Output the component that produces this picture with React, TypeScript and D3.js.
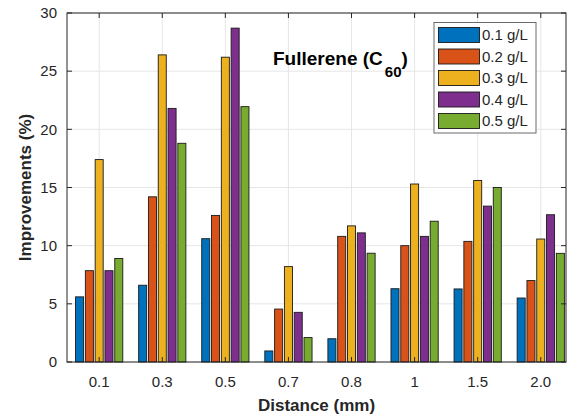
import React from "react";
import * as d3 from "d3";

const categories = ["0.1", "0.3", "0.5", "0.7", "0.8", "1", "1.5", "2.0"];
const seriesNames = ["0.1 g/L", "0.2 g/L", "0.3 g/L", "0.4 g/L", "0.5 g/L"];
const s01 = [5.6, 6.6, 10.6, 0.95, 2.0, 6.3, 6.28, 5.5];
const s02 = [7.85, 14.2, 12.6, 4.55, 10.8, 10.0, 10.37, 7.0];
const s03 = [17.4, 26.4, 26.2, 8.2, 11.7, 15.3, 15.6, 10.57];
const s04 = [7.85, 21.8, 28.7, 4.27, 11.1, 10.8, 13.4, 12.66];
const s05 = [8.9, 18.8, 21.95, 2.1, 9.35, 12.1, 15.0, 9.34];
const seriesValues = [s01, s02, s03, s04, s05];
const yTicks = [0, 5, 10, 15, 20, 25, 30];
const colors = ["#0072BD", "#D95319", "#EDB120", "#7E2F8E", "#77AC30"];

const W = 578;
const H = 419;
const left = 67, right = 566, top = 13, bottom = 362;
const font = "'Liberation Sans', Arial, Helvetica, sans-serif";
const axisColor = "#262626";

export default function App() {
  const x = d3.scaleLinear().domain([0.49, 8.4]).range([left, right]);
  const y = d3.scaleLinear().domain([0, 30]).range([bottom, top]);
  const inner = d3
    .scaleBand<number>()
    .domain(d3.range(seriesNames.length))
    .range([-24.5, 24.5])
    .paddingInner(0.18)
    .paddingOuter(0.09);
  const bw = inner.bandwidth();
  const tickLen = 5;

  return (
    <svg width={W} height={H} style={{ position: "absolute", left: 0, top: 0, background: "#fff" }}>
      <rect x={0} y={0} width={W} height={H} fill="#fff" />
      {/* grid */}
      {yTicks.map((t) => (
        <line key={"gy" + t} x1={left} x2={right} y1={y(t)} y2={y(t)} stroke="#e6e6e6" strokeWidth={1} />
      ))}
      {categories.map((c, i) => (
        <line key={"gx" + c} x1={x(i + 1)} x2={x(i + 1)} y1={top} y2={bottom} stroke="#e6e6e6" strokeWidth={1} />
      ))}
      {/* bars */}
      {seriesValues.map((vals, s) =>
        vals.map((v, i) => {
          const cx = x(i + 1) + (inner(s) as number);
          return (
            <rect
              key={s + "-" + i}
              x={cx}
              y={y(v)}
              width={bw}
              height={y(0) - y(v)}
              fill={colors[s]}
              stroke="#1a1a1a"
              strokeWidth={0.9}
            />
          );
        })
      )}
      {/* axes box */}
      <rect x={left} y={top} width={right - left} height={bottom - top} fill="none" stroke={axisColor} strokeWidth={1} />
      {/* ticks */}
      {yTicks.map((t) => (
        <g key={"ty" + t}>
          <line x1={left} x2={left + tickLen} y1={y(t)} y2={y(t)} stroke={axisColor} />
          <line x1={right} x2={right - tickLen} y1={y(t)} y2={y(t)} stroke={axisColor} />
          <text x={left - 10} y={y(t)} dy="0.35em" textAnchor="end" fontFamily={font} fontSize={15} fill={axisColor}>
            {t}
          </text>
        </g>
      ))}
      {categories.map((c, i) => (
        <g key={"tx" + c}>
          <line x1={x(i + 1)} x2={x(i + 1)} y1={bottom} y2={bottom - tickLen} stroke={axisColor} />
          <line x1={x(i + 1)} x2={x(i + 1)} y1={top} y2={top + tickLen} stroke={axisColor} />
          <text x={x(i + 1)} y={bottom + 25} textAnchor="middle" fontFamily={font} fontSize={15} fill={axisColor}>
            {c}
          </text>
        </g>
      ))}
      {/* axis titles */}
      <text x={(left + right) / 2} y={411} textAnchor="middle" fontFamily={font} fontSize={17} fontWeight="bold" fill={axisColor}>
        Distance (mm)
      </text>
      <text
        transform={`translate(31,${(top + bottom) / 2}) rotate(-90)`}
        textAnchor="middle"
        fontFamily={font}
        fontSize={17}
        fontWeight="bold"
        fill={axisColor}
      >
        Improvements (%)
      </text>
      {/* annotation */}
      <text x={273} y={65} fontFamily={font} fontSize={19} fontWeight="bold" fill="#000">
        Fullerene (C
        <tspan dx={2} dy={11.5} fontSize={15}>60</tspan>
        <tspan dy={-11.5}>)</tspan>
      </text>
      {/* legend */}
      <rect x={434} y={22.5} width={102} height={110.5} fill="#fff" stroke="#6b6b6b" strokeWidth={1} />
      {seriesNames.map((n, s) => {
        const ry = 27.5 + s * 21.5;
        return (
          <g key={"lg" + n}>
            <rect x={438.5} y={ry} width={41} height={15} fill={colors[s]} stroke="#1a1a1a" strokeWidth={0.9} />
            <text x={482} y={ry + 7.5} dy="0.36em" fontFamily={font} fontSize={15} fill={axisColor}>
              {n}
            </text>
          </g>
        );
      })}
    </svg>
  );
}
